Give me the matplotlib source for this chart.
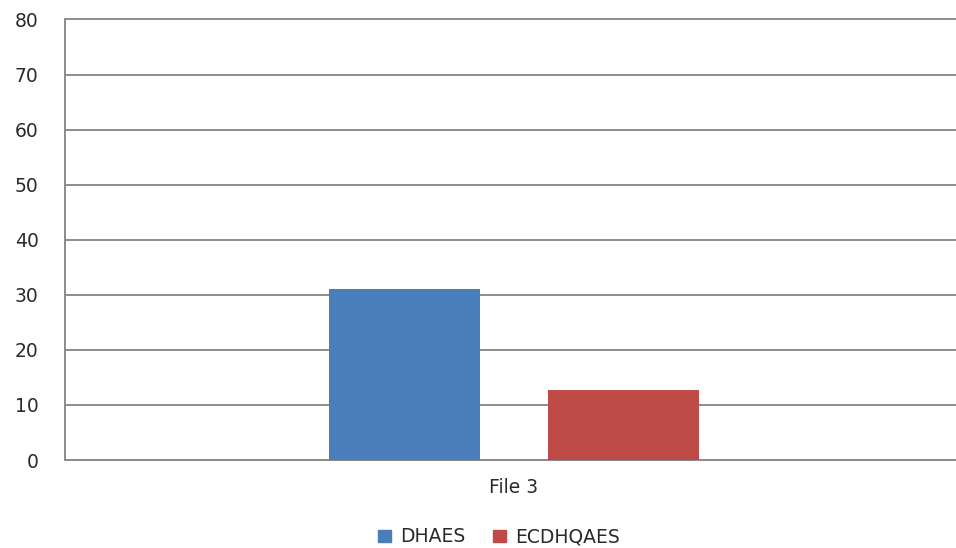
import matplotlib
matplotlib.use("Agg")
import matplotlib.pyplot as plt
from matplotlib.patches import Patch

# Chart data
categories = ["File 3"]
series_names = ["DHAES", "ECDHQAES"]
dhaes = [31]
ecdhqaes = [12.7]
yticks = [0, 10, 20, 30, 40, 50, 60, 70, 80]

colors = ["#4a7ebb", "#be4b48"]
grid_color = "#8c8c8c"
text_color = "#2a2a2a"

fig = plt.figure(figsize=(9.56, 5.48), dpi=100)
W, H = 956, 548
left, right, top, bottom = 65, 963, 19.5, 460
ax = fig.add_axes([left / W, 1 - bottom / H, (right - left) / W, (bottom - top) / H])

x = list(range(len(categories)))
width = 0.169
offset = 0.122
ax.bar([xi - offset for xi in x], dhaes, width, color=colors[0], zorder=3)
ax.bar([xi + offset for xi in x], ecdhqaes, width, color=colors[1], zorder=3)

ax.set_xlim(-0.5, 0.5)
ax.set_ylim(0, 80)
ax.set_yticks(yticks)
ax.set_yticklabels([str(t) for t in yticks])
ax.set_xticks(x)
ax.set_xticklabels(categories)

ax.grid(axis="y", color=grid_color, linewidth=1.4, zorder=0)
ax.set_axisbelow(True)
for gl in ax.get_ygridlines():
    gl.set_clip_on(False)
for s in ["top", "right"]:
    ax.spines[s].set_visible(False)
for s in ["left", "bottom"]:
    ax.spines[s].set_color(grid_color)
    ax.spines[s].set_linewidth(1.4)

ax.tick_params(axis="y", length=0, pad=19, labelsize=13.5, labelcolor=text_color)
ax.tick_params(axis="x", length=0, pad=13, labelsize=13.5, labelcolor=text_color)

handles = [Patch(color=c, label=n) for c, n in zip(colors, series_names)]
fig.legend(handles=handles, loc="center", bbox_to_anchor=(499 / W, 1 - 537 / H),
           ncol=2, frameon=False, prop={"size": 13.5}, handlelength=0.65,
           handleheight=0.65, handletextpad=0.5, columnspacing=1.5,
           labelcolor=text_color, borderpad=0)

fig.savefig("out.png", dpi=100)
